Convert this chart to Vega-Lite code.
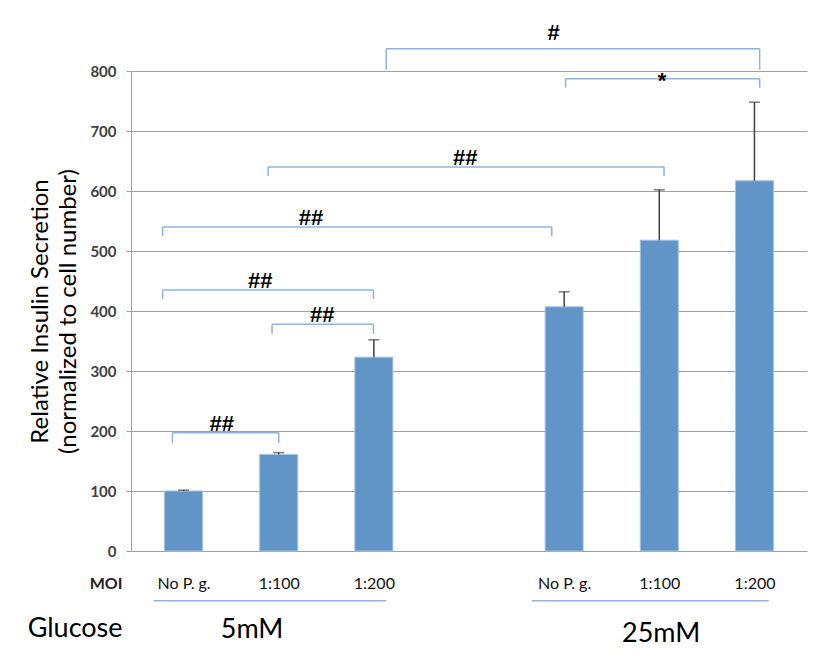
{
  "$schema": "https://vega.github.io/schema/vega-lite/v6.json",
  "width": 676,
  "height": 480,
  "autosize": {"type": "none"},
  "padding": {"left": 131, "top": 71, "right": 15, "bottom": 113},
  "background": "white",
  "config": {
    "view": {"stroke": null},
    "font": "Lato"
  },
  "datasets": {
    "bars": [
      {"glucose": "5mM", "moi": "No P. g.", "pos": 1, "value": 100, "upper": 101.5},
      {"glucose": "5mM", "moi": "1:100", "pos": 2, "value": 161, "upper": 164},
      {"glucose": "5mM", "moi": "1:200", "pos": 3, "value": 323, "upper": 352},
      {"glucose": "25mM", "moi": "No P. g.", "pos": 5, "value": 407, "upper": 432},
      {"glucose": "25mM", "moi": "1:100", "pos": 6, "value": 518, "upper": 602},
      {"glucose": "25mM", "moi": "1:200", "pos": 7, "value": 617, "upper": 748}
    ],
    "brackets": [
      {"label": "#", "x1": 3.13, "x2": 7.055, "y": 837, "yEnd": 802, "lx": 4.89, "ly": 852},
      {"label": "*", "x1": 5.015, "x2": 7.055, "y": 787, "yEnd": 772, "lx": 6.03, "ly": 771},
      {"label": "##", "x1": 1.888, "x2": 6.05, "y": 640, "yEnd": 625, "lx": 3.96, "ly": 643},
      {"label": "##", "x1": 0.78, "x2": 4.87, "y": 540, "yEnd": 525, "lx": 2.34, "ly": 543},
      {"label": "##", "x1": 0.78, "x2": 2.996, "y": 435, "yEnd": 420, "lx": 1.805, "ly": 438},
      {"label": "##", "x1": 1.93, "x2": 2.996, "y": 378, "yEnd": 362, "lx": 2.457, "ly": 381},
      {"label": "##", "x1": 0.883, "x2": 2.0, "y": 197, "yEnd": 180, "lx": 1.40, "ly": 200}
    ],
    "groups": [
      {"label": "5mM", "x1": 0.686, "x2": 3.13, "lineY": -83, "lx": 1.72, "ly": -132},
      {"label": "25mM", "x1": 4.66, "x2": 7.15, "lineY": -83, "lx": 6.02, "ly": -138}
    ],
    "rowTitle": [
      {"label": "Glucose", "lx": -0.14, "ly": -130}
    ]
  },
  "layer": [
    {
      "data": {"name": "bars"},
      "mark": {"type": "bar", "width": 38, "fill": "#6195c8", "stroke": "#a3c1e3", "strokeWidth": 1},
      "encoding": {
        "x": {
          "field": "pos", "type": "quantitative",
          "scale": {"domain": [0.5, 7.5], "nice": false, "zero": false},
          "axis": {
            "values": [1, 2, 3, 5, 6, 7],
            "labelExpr": "['No P. g.','1:100','1:200'][(datum.value-1)%4]",
            "domain": false, "ticks": false, "grid": false,
            "labelFont": "Lato", "labelFontSize": 16, "labelColor": "#111",
            "labelBaseline": "middle", "labelPadding": 32,
            "title": "MOI", "titleFont": "Lato", "titleFontSize": 16, "titleFontWeight": "bold",
            "titleColor": "#222", "titleX": -9, "titleY": 32, "titleAlign": "right", "titleBaseline": "middle"
          }
        },
        "y": {
          "field": "value", "type": "quantitative",
          "scale": {"domain": [0, 800], "nice": false},
          "axis": {
            "values": [0, 100, 200, 300, 400, 500, 600, 700, 800],
            "grid": true, "gridColor": "#a0a0a0", "gridWidth": 1,
            "domainColor": "#a0a0a0", "tickColor": "#a0a0a0", "tickSize": 5,
            "labelPadding": 10, "labelFont": "Lato", "labelFontSize": 15, "labelFontWeight": "bold", "labelColor": "#404040",
            "title": ["Relative  Insulin Secretion", "(normalized to cell number)"],
            "titleFont": "Lato", "titleFontSize": 24, "titleFontWeight": "normal", "titleColor": "#000",
            "titleLineHeight": 28, "titlePadding": 9
          }
        }
      }
    },
    {
      "data": {"name": "bars"},
      "mark": {"type": "rule", "color": "#404040", "strokeWidth": 1.5},
      "encoding": {
        "x": {"field": "pos", "type": "quantitative"},
        "y": {"field": "value", "type": "quantitative"},
        "y2": {"field": "upper"}
      }
    },
    {
      "data": {"name": "bars"},
      "mark": {"type": "tick", "orient": "horizontal", "color": "#404040", "size": 11, "thickness": 1.5},
      "encoding": {
        "x": {"field": "pos", "type": "quantitative"},
        "y": {"field": "upper", "type": "quantitative"}
      }
    },
    {
      "data": {"name": "brackets"},
      "mark": {"type": "rule", "color": "#8cb4e2", "strokeWidth": 1.5},
      "encoding": {
        "x": {"field": "x1", "type": "quantitative"},
        "x2": {"field": "x2"},
        "y": {"field": "y", "type": "quantitative"}
      }
    },
    {
      "data": {"name": "brackets"},
      "mark": {"type": "rule", "color": "#8cb4e2", "strokeWidth": 1.5},
      "encoding": {
        "x": {"field": "x1", "type": "quantitative"},
        "y": {"field": "y", "type": "quantitative"},
        "y2": {"field": "yEnd"}
      }
    },
    {
      "data": {"name": "brackets"},
      "mark": {"type": "rule", "color": "#8cb4e2", "strokeWidth": 1.5},
      "encoding": {
        "x": {"field": "x2", "type": "quantitative"},
        "y": {"field": "y", "type": "quantitative"},
        "y2": {"field": "yEnd"}
      }
    },
    {
      "data": {"name": "brackets"},
      "mark": {"type": "text", "font": "Liberation Sans", "fontSize": 22, "fontWeight": "bold", "color": "#000", "align": "center", "baseline": "alphabetic"},
      "encoding": {
        "x": {"field": "lx", "type": "quantitative"},
        "y": {"field": "ly", "type": "quantitative"},
        "text": {"field": "label"}
      }
    },
    {
      "data": {"name": "groups"},
      "mark": {"type": "rule", "color": "#8cb4e2", "strokeWidth": 1.5},
      "encoding": {
        "x": {"field": "x1", "type": "quantitative"},
        "x2": {"field": "x2"},
        "y": {"field": "lineY", "type": "quantitative"}
      }
    },
    {
      "data": {"name": "groups"},
      "mark": {"type": "text", "font": "Lato", "fontSize": 27, "color": "#000", "align": "center", "baseline": "middle"},
      "encoding": {
        "x": {"field": "lx", "type": "quantitative"},
        "y": {"field": "ly", "type": "quantitative"},
        "text": {"field": "label"}
      }
    },
    {
      "data": {"name": "rowTitle"},
      "mark": {"type": "text", "font": "Lato", "fontSize": 27, "color": "#000", "align": "center", "baseline": "middle"},
      "encoding": {
        "x": {"field": "lx", "type": "quantitative"},
        "y": {"field": "ly", "type": "quantitative"},
        "text": {"field": "label"}
      }
    }
  ]
}
